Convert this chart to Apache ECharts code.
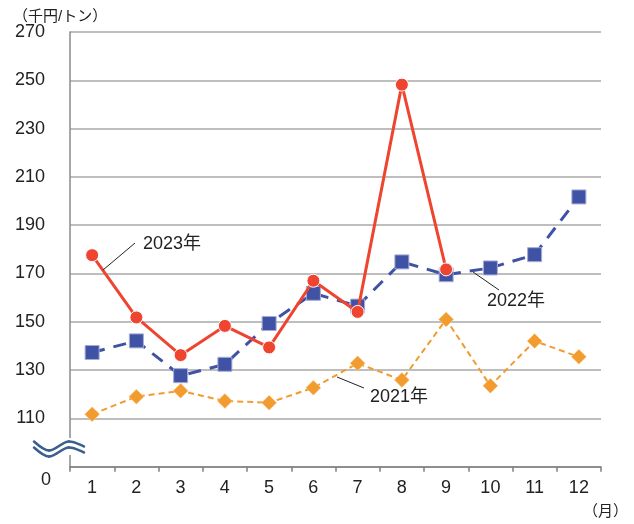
<!DOCTYPE html>
<html><head><meta charset="utf-8">
<script src="https://cdn.jsdelivr.net/npm/echarts@6/dist/echarts.min.js"></script>
<style>html,body{margin:0;padding:0;background:#fff}#c{width:634px;height:524px}</style>
</head><body><div id="c"></div>
<script>
const months = ['1','2','3','4','5','6','7','8','9','10','11','12'];
const yTicks = [110,130,150,170,190,210,230,250,270];
const s2021 = [111.7,119,121.4,117.2,116.5,122.7,132.8,125.9,151,123.5,142,135.5];
const s2022 = [137.3,142.1,127.7,132.4,149.3,161.8,156.5,174.8,169.5,172.3,177.8,201.7];
const s2023 = [177.6,151.8,136.2,148.3,139.4,167,154.1,248.2,171.7];
const FONT = '"Liberation Sans","Noto Sans CJK JP",sans-serif';

const chart = echarts.init(document.getElementById('c'), null, {renderer:'canvas'});

function wave(dy){
  const segs = [
    [34,441.5, 49,450.5, 39,446, 44,450.5],
    [49,450.5, 69,441.5, 56,450.5, 62,441.5],
    [69,441.5, 84,446.5, 75,441.5, 79,444.5]
  ];
  return segs.map(s=>({type:'bezierCurve',
    shape:{x1:s[0],y1:s[1]+dy,x2:s[2],y2:s[3]+dy,cpx1:s[4],cpy1:s[5]+dy,cpx2:s[6],cpy2:s[7]+dy},
    style:{fill:null,stroke:'#3a5e8e',lineWidth:2.5,lineCap:'round'},z:101}));
}

chart.setOption({
  animation:false,
  grid:{left:70,right:33,top:32,bottom:57.3},
  xAxis:{type:'category',data:months,boundaryGap:true,
    axisLine:{lineStyle:{color:'#7f7f7f',width:1.5}},
    axisTick:{show:true,length:5,inside:false,lineStyle:{color:'#7f7f7f',width:1.5}},
    axisLabel:{color:'#222',fontSize:18,fontFamily:FONT,margin:12}
  },
  yAxis:{type:'value',min:90,max:270,interval:20,
    axisLine:{show:true,lineStyle:{color:'#8a8a8a',width:1.5}},
    axisTick:{show:false},
    splitLine:{show:true,lineStyle:{color:'#a8a8a8',width:1.5}},
    axisLabel:{color:'#222',fontSize:18,fontFamily:FONT,margin:25,
      formatter:v=> yTicks.indexOf(v)>=0 ? String(v) : ''}
  },
  series:[
    {name:'2021年',type:'line',data:s2021,symbol:'diamond',symbolSize:[15,15],
      itemStyle:{color:'#f29b2f',borderColor:'#fbd8a6',borderWidth:0.5},
      lineStyle:{color:'#f29b2f',width:2,type:[6,4]},z:2},
    {name:'2022年',type:'line',data:s2022,symbol:'rect',symbolSize:14,
      itemStyle:{color:'#3f52a4',borderColor:'#a5acd6',borderWidth:1},
      lineStyle:{color:'#3f52a4',width:3,type:[13,9]},z:3},
    {name:'2023年',type:'line',data:s2023,symbol:'circle',symbolSize:13,
      itemStyle:{color:'#ef4430',borderColor:'#ffffff',borderWidth:1},
      lineStyle:{color:'#ef4430',width:3},z:4}
  ],
  graphic:[
    {type:'text',x:13,y:9,style:{text:'（千円/トン）',fontSize:15,fontFamily:FONT,fill:'#222'}},
    {type:'text',x:583,y:504,style:{text:'（月）',fontSize:15,fontFamily:FONT,fill:'#222'}},
    {type:'text',x:41,y:471,style:{text:'0',fontSize:18,fontFamily:FONT,fill:'#222'}},
    {type:'rect',shape:{x:64,y:438,width:12,height:17},style:{fill:'#fff'},z:100},
    ...wave(0), ...wave(6),
    {type:'line',shape:{x1:103,y1:270,x2:135,y2:243},style:{stroke:'#222',lineWidth:1},z:100},
    {type:'text',x:143,y:235,style:{text:'2023年',fontSize:18,fontFamily:FONT,fill:'#222'},z:100},
    {type:'line',shape:{x1:473,y1:272,x2:499,y2:290},style:{stroke:'#222',lineWidth:1},z:100},
    {type:'text',x:487,y:292,style:{text:'2022年',fontSize:18,fontFamily:FONT,fill:'#222'},z:100},
    {type:'line',shape:{x1:337,y1:377,x2:364,y2:388},style:{stroke:'#222',lineWidth:1},z:100},
    {type:'text',x:370,y:388,style:{text:'2021年',fontSize:18,fontFamily:FONT,fill:'#222'},z:100}
  ]
});
</script></body></html>
